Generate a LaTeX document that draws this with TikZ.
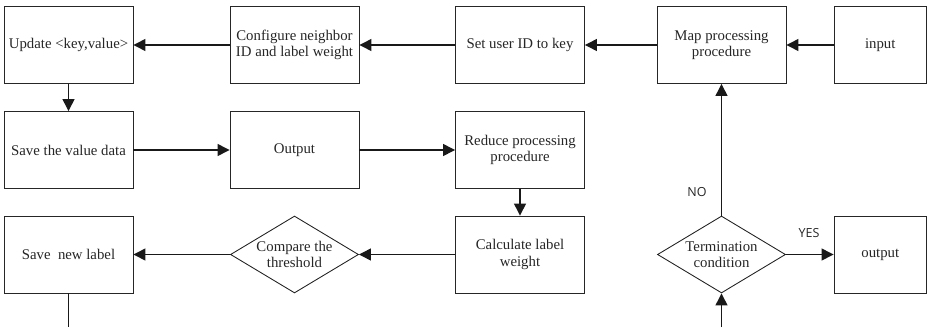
\documentclass[tikz,border=0pt]{standalone}
\usepackage{fontspec}
\setmainfont{Liberation Serif}
\newfontfamily\labfont{Open Sans}
\usetikzlibrary{shapes.geometric,arrows.meta}
\begin{document}
\begin{tikzpicture}[x=1pt,y=-1pt,
  every node/.style={font=\fontsize{14.8}{16.5}\selectfont, text=black!85},
  box/.style={draw=black!85, line width=0.9pt, minimum width=129pt, minimum height=77pt, inner sep=0pt, align=center},
  sbox/.style={box, minimum width=92.5pt},
  dia/.style={draw=black!85, line width=0.9pt, shape=diamond, minimum width=128pt, minimum height=77pt, inner sep=0pt},
  arr/.style={line width=1.3pt, draw=black!90, -{Triangle[length=12pt,width=12pt]}},
  ln/.style={line width=1.3pt, draw=black!90},
  yn/.style={font=\labfont\fontsize{12.5}{14}\selectfont}
]
\useasboundingbox (0,0) rectangle (928,327);
% row 1
\node[box] (upd) at (68.5,45) {Update <key,value>};
\node[box] (conf) at (294.5,45) {Configure neighbor\\ID and label weight};
\node[box] (set) at (520,45) {Set user ID to key};
\node[box] (map) at (721.5,45) {Map processing\\procedure};
\node[sbox] (inp) at (880.25,45) {input};
% row 2
\node[box] (save) at (68.5,150) {Save the value data};
\node[box] (out) at (294.5,150) {Output};
\node[box] (red) at (520,150) {Reduce processing\\procedure};
% row 3
\node[box] (snl) at (68.5,254.5) {Save\ \ new label};
\node[dia, label={[align=center]center:Compare the\\threshold}] (cmp) at (294.5,254.5) {};
\node[box] (calc) at (520,254.5) {Calculate label\\weight};
\node[dia, label={[align=center]center:Termination\\condition}] (term) at (721.5,254.5) {};
\node[sbox] (outp) at (880.25,254.5) {output};
\coordinate (loopa) at (68.5,327);
\coordinate (loopb) at (721.5,327);
% connectors
\draw[arr] (inp) -- (map);
\draw[arr] (map) -- (set);
\draw[arr] (set) -- (conf);
\draw[arr] (conf) -- (upd);
\draw[arr] (upd) -- (save);
\draw[arr] (save) -- (out);
\draw[arr] (out) -- (red);
\draw[arr] (red) -- (calc);
\draw[arr] (calc) -- (cmp);
\draw[arr] (cmp) -- (snl);
\draw[ln] (snl) -- (loopa);
\draw[arr] (loopb) -- (term);
\draw[arr] (term) -- (map);
\draw[arr] (term) -- (outp);
\node[yn] (no) at (697,192) {NO};
\node[yn] (yes) at (809,233) {YES};
\end{tikzpicture}
\end{document}
